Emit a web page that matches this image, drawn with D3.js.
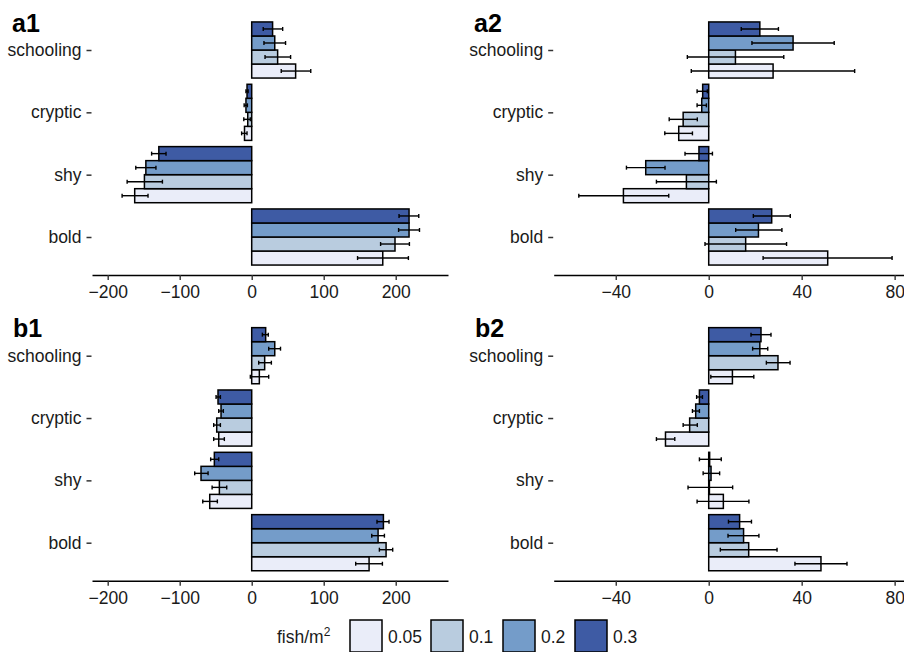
<!DOCTYPE html>
<html>
<head>
<meta charset="UTF-8">
<title>Behaviour by fish density</title>
<script src="https://d3js.org/d3.v7.min.js"></script>
<style>
    body { margin: 0; background: #fff; }
    text { font-family: "Liberation Sans", Arial, Helvetica, sans-serif; fill: #1a1a1a; }
    .tick text { font-size: 17.5px; }
    .panel-label { font-size: 25px; font-weight: bold; fill: #000; }
    .legend text { font-size: 17.5px; }
</style>
</head>
<body>
<div id="chart"></div>
<script>
// categories (top to bottom) and densities (fish/m^2)
const categories = ["schooling", "cryptic", "shy", "bold"];
const densities = ["0.05", "0.1", "0.2", "0.3"];
const colors = ["#EAEDF9", "#B9CCDF", "#749CC9", "#3E5BA4"];

const ticks1 = [-200, -100, 0, 100, 200];
const ticks2 = [-40, 0, 40, 80];

// rows = categories, columns = densities (0.05, 0.1, 0.2, 0.3)
const a1Mean = [[61, 36, 32, 29], [-10, -5.5, -8, -6.5], [-162.5, -149, -147, -129], [182, 199, 218.5, 218.5]];
const a1Lo   = [[41, 18.5, 17, 16], [-14, -11, -10.5, -8], [-180, -173, -161, -139], [147, 179, 204, 204.6]];
const a1Hi   = [[82, 54, 47, 43], [-6.5, -2, -6, -5], [-144, -124, -133, -119], [217.6, 219, 233, 232]];

const a2Mean = [[27.7, 11.5, 36.3, 22], [-12.9, -11, -3, -2.6], [-36.7, -9.6, -27.1, -4.2], [51.2, 15.9, 21.4, 27.1]];
const a2Lo   = [[-7.5, -9.2, 18.6, 14], [-18.9, -17, -5, -5], [-55.9, -22.5, -35.4, -10.2], [23.4, -1.6, 11.6, 19.2]];
const a2Hi   = [[62.8, 32.3, 54, 30], [-7, -4.9, -1, -0.6], [-17.2, 3.3, -18.8, 1.6], [78.9, 33.5, 31.5, 35.1]];

const b1Mean = [[10.6, 18, 32, 19.4], [-45.8, -48.6, -42.6, -46.8], [-58.3, -44.9, -70.4, -51.9], [163, 186.6, 175.5, 182.9]];
const b1Lo   = [[-1.9, 9.7, 23.6, 14.8], [-52.8, -52.8, -45.8, -49.5], [-68, -55, -79.2, -57], [144.4, 177.3, 166.7, 174]];
const b1Hi   = [[23.6, 27.3, 40, 23], [-38, -43.5, -39.4, -43.5], [-47.7, -34.7, -60.6, -45.8], [181.5, 195.8, 184.3, 190.7]];

const b2Mean = [[10.2, 29.8, 22, 22.5], [-18.6, -8.2, -5.6, -4], [6.3, 0.3, 1, 0.4], [48.3, 17.2, 15, 13.3]];
const b2Lo   = [[0.9, 24.8, 18.9, 18.2], [-22.5, -11, -7, -5.2], [-5, -8.9, -2.4, -4], [37.1, 5, 8.3, 8.5]];
const b2Hi   = [[19.4, 35, 25.4, 26.8], [-14.6, -4.9, -4, -2.7], [17.3, 10.3, 4.7, 5.4], [59.5, 29.4, 21.6, 18.4]];

const W = 904, H = 652;
const svg = d3.select("#chart").append("svg")
    .attr("width", W)
    .attr("height", H);

const panels = [
    {label: "a1", mean: a1Mean, lo: a1Lo, hi: a1Hi, ticks: ticks1, domain: [-221.8, 272.6], xr: [92, 448],   yr: [12.6, 274.4],  lx: 12, ly: 32},
    {label: "a2", mean: a2Mean, lo: a2Lo, hi: a2Hi, ticks: ticks2, domain: [-66.7, 83.9],  xr: [553.7, 903.7], yr: [12.6, 274.4], lx: 474, ly: 32},
    {label: "b1", mean: b1Mean, lo: b1Lo, hi: b1Hi, ticks: ticks1, domain: [-221.8, 272.6], xr: [92, 448],   yr: [318.3, 580.1], lx: 13, ly: 337},
    {label: "b2", mean: b2Mean, lo: b2Lo, hi: b2Hi, ticks: ticks2, domain: [-66.7, 83.9],  xr: [553.7, 903.7], yr: [318.3, 580.1], lx: 475, ly: 337}
];

panels.forEach(p => {
    const g = svg.append("g");

    const x = d3.scaleLinear().domain(p.domain).range(p.xr);
    const y = d3.scalePoint().domain(categories).range(p.yr).padding(0.6);
    const step = y.step();
    // 0.3 on top, 0.05 at bottom
    const yInner = d3.scaleBand()
        .domain(densities.slice().reverse())
        .range([-0.45 * step, 0.45 * step]);

    const rows = [];
    categories.forEach((c, i) => {
        densities.forEach((d, j) => {
            rows.push({cat: c, dens: d, j: j, v: p.mean[i][j], lo: p.lo[i][j], hi: p.hi[i][j]});
        });
    });

    // bars
    g.selectAll(".bar")
        .data(rows)
        .enter()
        .append("rect")
            .attr("class", "bar")
            .attr("x", d => Math.min(x(0), x(d.v)))
            .attr("width", d => Math.abs(x(d.v) - x(0)))
            .attr("y", d => y(d.cat) + yInner(d.dens))
            .attr("height", yInner.bandwidth())
            .attr("fill", d => colors[d.j])
            .attr("stroke", "#000")
            .attr("stroke-width", 1.5);

    // error bars
    const eb = g.selectAll(".err")
        .data(rows)
        .enter()
        .append("g")
            .attr("class", "err")
            .attr("transform", d => `translate(0,${y(d.cat) + yInner(d.dens) + yInner.bandwidth() / 2})`)
            .attr("stroke", "#000")
            .attr("stroke-width", 1.4);
    eb.append("line")
        .attr("x1", d => x(d.lo)).attr("x2", d => x(d.hi));
    eb.append("line")
        .attr("x1", d => x(d.lo)).attr("x2", d => x(d.lo))
        .attr("y1", -2).attr("y2", 2);
    eb.append("line")
        .attr("x1", d => x(d.hi)).attr("x2", d => x(d.hi))
        .attr("y1", -2).attr("y2", 2);

    // x axis
    const xAxis = g.append("g")
        .attr("transform", `translate(0,${p.yr[1] + 0.6})`)
        .call(d3.axisBottom(x).tickValues(p.ticks).tickSize(5).tickSizeOuter(0).tickPadding(6));
    xAxis.select(".domain").attr("stroke", "#000").attr("stroke-width", 1.4);
    xAxis.selectAll(".tick line").attr("stroke", "#333").attr("stroke-width", 1.4);

    // y axis (ticks only)
    const yAxis = g.append("g")
        .attr("transform", `translate(${p.xr[0] - 0.5},0)`)
        .call(d3.axisLeft(y).tickSize(5).tickPadding(5));
    yAxis.select(".domain").remove();
    yAxis.selectAll(".tick line").attr("stroke", "#333").attr("stroke-width", 1.5);

    g.append("text")
        .attr("class", "panel-label")
        .attr("x", p.lx)
        .attr("y", p.ly)
        .text(p.label);
});

// legend
const legend = svg.append("g").attr("class", "legend");
const title = legend.append("text")
    .attr("x", 277)
    .attr("y", 643);
title.append("tspan").text("fish/m");
title.append("tspan").attr("dy", -7).style("font-size", "12px").text("2");

const keyX = [350, 431, 503, 575];
densities.forEach((d, j) => {
    legend.append("rect")
        .attr("x", keyX[j])
        .attr("y", 620)
        .attr("width", 32)
        .attr("height", 32)
        .attr("fill", colors[j])
        .attr("stroke", "#000")
        .attr("stroke-width", 1.5);
    legend.append("text")
        .attr("x", keyX[j] + 38)
        .attr("y", 643)
        .text(d);
});
</script>
</body>
</html>
